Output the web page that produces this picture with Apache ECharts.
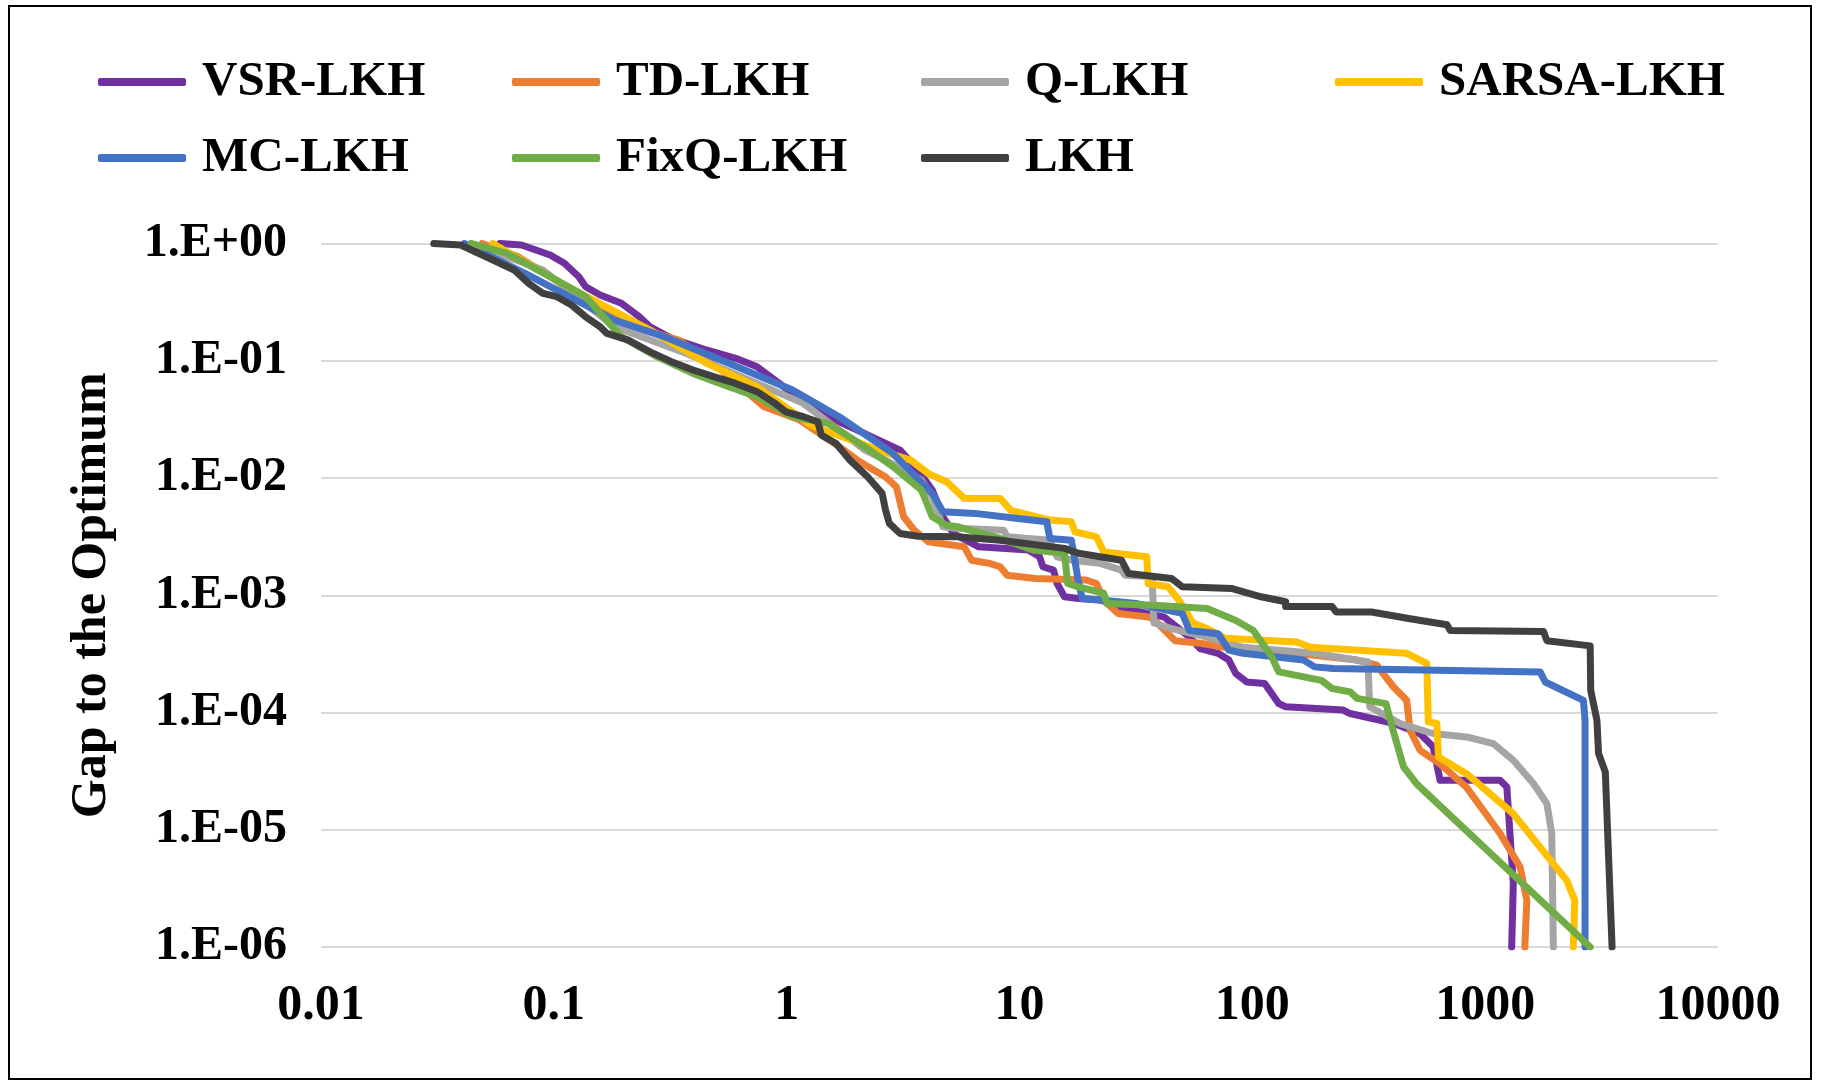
<!DOCTYPE html>
<html>
<head>
<meta charset="utf-8">
<title>Gap to the Optimum</title>
<script src="https://cdn.jsdelivr.net/npm/echarts@6/dist/echarts.min.js"></script>
<style>
  html, body { margin: 0; padding: 0; background: #fff; }
  #chart { width: 1821px; height: 1085px; }
</style>
</head>
<body>
<div id="chart"></div>
<script>
// [time, gap to optimum]
var vsrLkh = [[0.0587,1],[0.0726,0.97],[0.0964,0.798],[0.111,0.678],[0.128,0.521],[0.137,0.428],[0.158,0.364],[0.195,0.309],[0.233,0.237],[0.259,0.195],[0.320,0.155],[0.455,0.123],[0.604,0.105],[0.746,0.0889],[1.06,0.0527],[1.51,0.0333],[2.01,0.0256],[3.07,0.0173],[3.66,0.0117],[4.22,0.0079],[4.69,0.00467],[5.21,0.00336],[6.68,0.00259],[10.9,0.00243],[12.2,0.00213],[12.6,0.00175],[14.0,0.00164],[14.5,0.00126],[15.6,0.00097],[17.9,0.00094],[22.2,0.00091],[28.4,0.00077],[41.9,0.00065],[53.7,0.00044],[59.7,0.00035],[71.3,0.00032],[79.3,0.00028],[84.9,0.000215],[94.6,0.000182],[113,0.000177],[130,0.000119],[139,0.000112],[245,0.000105],[263,0.000098],[404,0.000081],[525,0.000066],[598,0.000051],[640,0.0000264],[1159,0.0000264],[1239,0.0000232],[1321,0.0000035],[1300,0.000001]];
var tdLkh = [[0.0492,1],[0.0702,0.773],[0.107,0.457],[0.158,0.289],[0.242,0.183],[0.344,0.150],[0.525,0.0834],[0.80,0.0405],[1.14,0.0312],[1.68,0.0185],[2.01,0.0142],[2.66,0.0102],[2.96,0.0084],[3.18,0.00467],[3.53,0.00359],[4.06,0.00286],[5.79,0.00259],[6.22,0.00199],[7.43,0.00187],[8.26,0.00175],[8.85,0.00148],[11.7,0.00139],[19.3,0.00135],[21.4,0.00126],[22.2,0.00107],[23.8,0.00085],[26.5,0.0007],[36.4,0.00065],[39.1,0.00058],[46.6,0.00041],[59.7,0.00039],[91.2,0.00034],[155,0.00032],[282,0.00028],[342,0.000254],[404,0.000165],[460,0.000127],[476,0.0000706],[525,0.0000476],[640,0.0000364],[832,0.000023],[1159,0.0000093],[1413,0.0000048],[1510,0.0000025],[1480,0.000001]];
var qLkh = [[0.0442,1],[0.0897,0.594],[0.182,0.195],[0.369,0.116],[0.746,0.0641],[1.18,0.0433],[2.16,0.0174],[2.66,0.0142],[3.79,0.0096],[4.22,0.0069],[4.69,0.00384],[5.40,0.00372],[8.55,0.00359],[8.85,0.00315],[13.5,0.00295],[14.5,0.00213],[16.7,0.00199],[22.2,0.00187],[27.4,0.00164],[28.4,0.00148],[37.1,0.00144],[37.8,0.00058],[45,0.00052],[64,0.00044],[91.2,0.00036],[185,0.00032],[314,0.00027],[319,0.000112],[431,0.0000805],[598,0.0000662],[832,0.0000619],[1084,0.0000543],[1321,0.0000392],[1611,0.0000248],[1841,0.0000167],[1932,0.0000093],[1963,0.000001]];
var sarsaLkh = [[0.0547,1],[0.111,0.443],[0.259,0.183],[0.455,0.095],[0.746,0.060],[1.27,0.0282],[2.48,0.0173],[3.41,0.0142],[4.06,0.0109],[4.86,0.0093],[5.79,0.0067],[8.26,0.0067],[9.18,0.0053],[13.5,0.00438],[16.7,0.00423],[17.3,0.00348],[21.4,0.00315],[23.0,0.00234],[35.2,0.00213],[35.7,0.00126],[43.5,0.00118],[48.3,0.00091],[55.6,0.00058],[64,0.00052],[76.4,0.00043],[155,0.0004],[178,0.00036],[460,0.00032],[561,0.000262],[570,0.0000832],[620,0.0000805],[630,0.0000418],[832,0.0000301],[1321,0.0000137],[2239,0.0000037],[2427,0.0000025],[2390,0.000001]];
var mcLkh = [[0.0413,1],[0.0752,0.557],[0.182,0.222],[0.299,0.160],[0.525,0.101],[1.06,0.0562],[1.68,0.0333],[2.86,0.0162],[4.22,0.0074],[4.69,0.00515],[6.44,0.00499],[9.84,0.00452],[13.1,0.00423],[13.5,0.00305],[16.7,0.00295],[17.0,0.00243],[17.9,0.0013],[18.6,0.00094],[22.2,0.00091],[31.6,0.00085],[50.0,0.0007],[53.7,0.0005],[71.3,0.00047],[79.3,0.00034],[91.2,0.00032],[166,0.00028],[185,0.000245],[223,0.000237],[1722,0.000222],[1811,0.000182],[2642,0.000127],[2685,0.000086],[2685,0.000001]];
var fixqLkh = [[0.0442,1],[0.0630,0.824],[0.0964,0.521],[0.137,0.352],[0.195,0.160],[0.278,0.108],[0.396,0.078],[0.564,0.060],[0.746,0.0493],[1.06,0.0333],[1.51,0.0292],[2.16,0.0185],[2.86,0.0125],[3.79,0.0079],[4.22,0.00467],[4.86,0.00396],[5.40,0.00384],[8.26,0.00305],[11.4,0.00243],[15.6,0.00228],[16.1,0.00126],[17.9,0.00118],[23.0,0.00104],[23.8,0.00085],[37.8,0.00082],[64,0.00077],[84.9,0.00061],[101,0.0005],[121,0.0003],[130,0.000222],[198,0.000188],[220,0.00016],[263,0.00015],[282,0.000132],[375,0.000119],[402,0.0000706],[446,0.0000344],[509,0.0000245],[2825,0.000001]];
var lkh = [[0.0305,1],[0.0398,0.97],[0.0528,0.748],[0.0676,0.594],[0.078,0.457],[0.0897,0.376],[0.103,0.352],[0.119,0.299],[0.137,0.237],[0.158,0.195],[0.169,0.171],[0.209,0.150],[0.259,0.119],[0.320,0.0982],[0.396,0.0834],[0.489,0.0729],[0.604,0.0641],[0.746,0.0545],[0.891,0.0433],[0.991,0.0367],[1.18,0.0333],[1.36,0.0302],[1.41,0.0232],[1.63,0.0197],[1.87,0.0142],[2.23,0.0102],[2.57,0.0074],[2.66,0.0053],[2.76,0.0041],[3.07,0.00336],[3.66,0.00319],[5.40,0.00315],[8.26,0.00295],[15.6,0.00251],[17.9,0.00228],[27.4,0.00199],[29.4,0.00153],[45,0.00139],[50,0.00118],[82,0.00114],[109,0.00097],[139,0.00088],[139,0.0008],[220,0.0008],[229,0.00072],[325,0.00072],[476,0.00063],[685,0.00056],[708,0.0005],[1782,0.00049],[1841,0.00041],[2825,0.00037],[2840,0.000155],[3020,0.000086],[3069,0.0000447],[3281,0.0000311],[3508,0.000001]];

var seriesNames = ["VSR-LKH", "TD-LKH", "Q-LKH", "SARSA-LKH", "MC-LKH", "FixQ-LKH", "LKH"];
var seriesColors = ["#7030A0", "#ED7D31", "#A5A5A5", "#FFC000", "#4472C4", "#70AD47", "#404040"];
var seriesData = [vsrLkh, tdLkh, qLkh, sarsaLkh, mcLkh, fixqLkh, lkh];

var xTickLabels = ["0.01", "0.1", "1", "10", "100", "1000", "10000"];
var yTickLabels = ["1.E-06", "1.E-05", "1.E-04", "1.E-03", "1.E-02", "1.E-01", "1.E+00"];

var font = "'Liberation Serif', 'Times New Roman', serif";
var chart = echarts.init(document.getElementById("chart"));

function legendCol(names, left) {
  return {
    orient: "vertical",
    left: left,
    top: 52,
    itemWidth: 88,
    itemHeight: 8,
    itemGap: 26,
    icon: "roundRect",
    selectedMode: false,
    data: names,
    textStyle: {
      fontFamily: font,
      fontWeight: "bold",
      fontSize: 49,
      lineHeight: 50,
      color: "#000",
      padding: [0, 0, 0, 11]
    }
  };
}

var option = {
  backgroundColor: "#fff",
  animation: false,
  graphic: [{
    type: "rect",
    shape: { x: 9, y: 6, width: 1802, height: 1073 },
    style: { fill: "none", stroke: "#000", lineWidth: 2 }
  }],
  legend: [
    legendCol(["VSR-LKH", "MC-LKH"], 93),
    legendCol(["TD-LKH", "FixQ-LKH"], 507),
    legendCol(["Q-LKH", "LKH"], 916),
    legendCol(["SARSA-LKH"], 1330)
  ],
  grid: { left: 321, right: 103, top: 243.5, bottom: 138 },
  xAxis: {
    type: "log",
    logBase: 10,
    min: 0.01,
    max: 10000,
    splitNumber: 6,
    axisLine: { show: false },
    axisTick: { show: false },
    splitLine: { show: false },
    axisLabel: {
      margin: 34,
      fontFamily: font,
      fontWeight: "bold",
      fontSize: 50,
      color: "#000",
      formatter: function (v) {
        var i = Math.round(Math.log10(v)) + 2;
        return xTickLabels[i] || "";
      }
    }
  },
  yAxis: {
    type: "log",
    logBase: 10,
    min: 0.000001,
    max: 1,
    splitNumber: 6,
    name: "Gap to the Optimum",
    nameLocation: "middle",
    nameGap: 204,
    nameTextStyle: {
      fontFamily: font,
      fontWeight: "bold",
      fontSize: 50,
      color: "#000"
    },
    axisLine: { show: false },
    axisTick: { show: false },
    splitLine: { lineStyle: { color: "#d9d9d9", width: 2 } },
    axisLabel: {
      margin: 34,
      fontFamily: font,
      fontWeight: "bold",
      fontSize: 48,
      color: "#000",
      formatter: function (v) {
        var i = Math.round(Math.log10(v)) + 6;
        return yTickLabels[i] || "";
      }
    }
  },
  series: seriesNames.map(function (name, i) {
    return {
      name: name,
      type: "line",
      data: seriesData[i],
      showSymbol: false,
      symbol: "none",
      color: seriesColors[i],
      lineStyle: { width: 7, color: seriesColors[i], cap: "round", join: "round" },
      z: 2 + i
    };
  })
};

chart.setOption(option);
</script>
</body>
</html>
